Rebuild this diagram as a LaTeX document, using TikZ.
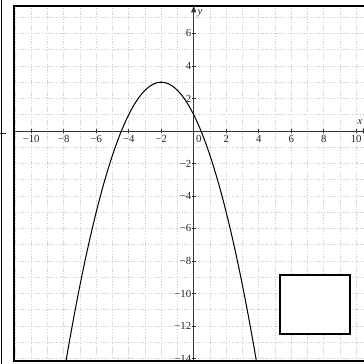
\documentclass[tikz,border=0pt]{standalone}
\usepackage{fontspec}
\setmainfont{Liberation Serif}
\usetikzlibrary{arrows.meta}

\begin{document}
\begin{tikzpicture}[
			x=0.45cm, y=0.45cm,
			font=\footnotesize,
			gridline/.style={draw=black!18, dash pattern=on 1pt off 1.2pt, line width=0.5pt},
			axis/.style={draw=black!80, line width=0.6pt},
			ticklbl/.style={text=black!85, inner sep=1pt, font=\fontsize{8.5}{10}\selectfont},
			curve/.style={draw=black, line width=0.8pt},
			frame/.style={draw=black, line width=1.1pt},
			answer/.style={draw=black, line width=1.4pt, fill=white, minimum width=1.95cm, minimum height=1.65cm, inner sep=0pt}
			]
			\useasboundingbox (-11.92,-14.34) rectangle (10.48,8.06);
			\clip (-11.92,-14.34) rectangle (10.48,8.06);
			% edge of the neighbouring panel
			\coordinate (nb1) at (-11.80,-14.4);
			\coordinate (nb2) at (-11.80,8.1);
			\draw[frame, line width=0.8pt] (nb1) -- (nb2);
			\draw[axis] (-11.92,-0.12) -- (-11.55,-0.12);
			% grid
			\begin{scope}
				\clip (-11.06,-14.15) rectangle (11,7.69);
				\foreach \x in {-11,...,10} {\draw[gridline] (\x,-14.15) -- (\x,7.69);}
				\foreach \y in {-14,...,7} {\draw[gridline] (-11.06,\y) -- (11,\y);}
			\end{scope}
			% axes
			\coordinate (xa) at (-11.06,0);
			\coordinate (xb) at (10.8,0);
			\coordinate (ya) at (0,-14.15);
			\coordinate (yb) at (0,7.69);
			\draw[axis, -{Triangle[length=5pt,width=4pt]}] (xa) -- (xb);
			\draw[axis, -{Triangle[length=5pt,width=4pt]}] (ya) -- (yb);
			\node[ticklbl, anchor=east] (xlbl) at (10.48,0.55) {\itshape x};
			\node[ticklbl] (ylbl) at (0.39,7.26) {\itshape y};
			\foreach \x/\t [count=\i] in {-10/−10,-8/−8,-6/−6,-4/−4,-2/−2,2/2,4/4,6/6,8/8,10/10} {
				\draw[axis] (\x,0.12) -- (\x,-0.12);
				\node[ticklbl, anchor=north] (xl\i) at (\x,-0.2) {\t};
			}
			\foreach \y/\t [count=\i] in {6/6,4/4,2/2,-2/−2,-4/−4,-6/−6,-8/−8,-10/−10,-12/−12,-14/−14} {
				\draw[axis] (0.12,\y) -- (-0.12,\y);
				\node[ticklbl, anchor=east] (yl\i) at (-0.06,\y) {\t};
			}
			\node[ticklbl, anchor=north west] (orig) at (0.05,-0.2) {0};
			% parabola
			\begin{scope}
				\clip (-11.06,-14.15) rectangle (11,7.69);
				\draw[curve] plot[domain=-8:4, samples=120, smooth] (\x,{3-0.5*(\x+2)*(\x+2)});
			\end{scope}
			% frame
			\draw[frame] (11,7.69) -- (-11.06,7.69) -- (-11.06,-14.15) -- (11,-14.15);
			\node[answer] (box) at (7.455,-10.675) {};
		\end{tikzpicture}
\end{document}
